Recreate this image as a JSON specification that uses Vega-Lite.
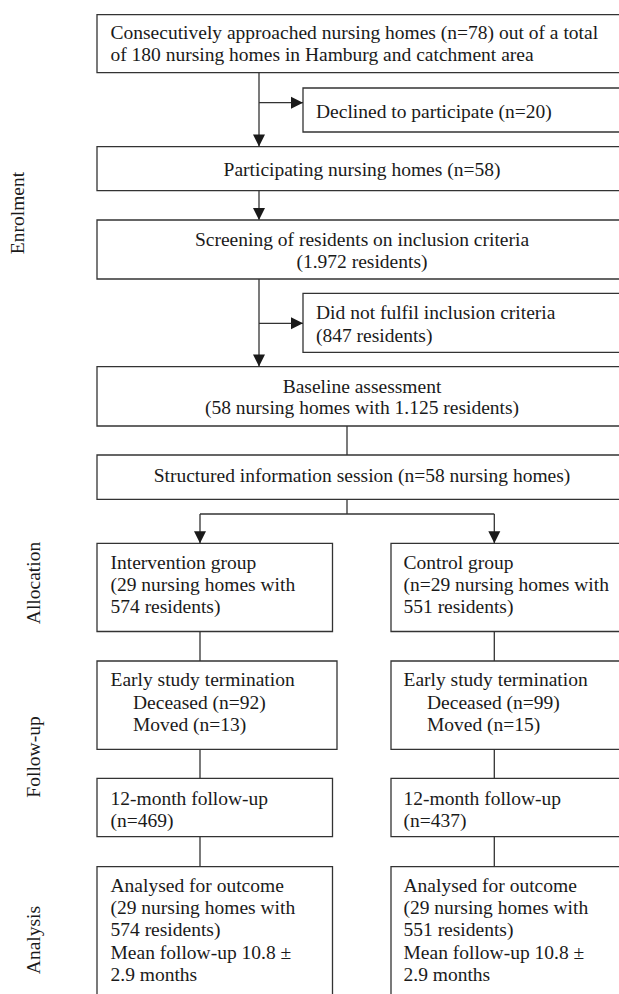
{
  "$schema": "https://vega.github.io/schema/vega-lite/v6.json",
  "width": 619,
  "height": 994,
  "padding": 0,
  "autosize": {"type": "none"},
  "background": "white",
  "config": {"view": {"stroke": null}},
  "datasets": {
    "boxes": [
      {"id": "approached", "x": 97, "x2": 628, "y": 14.7, "y2": 72.7},
      {"id": "declined", "x": 303, "x2": 628, "y": 88, "y2": 132},
      {"id": "participating", "x": 97, "x2": 628, "y": 146.7, "y2": 190.7},
      {"id": "screening", "x": 97, "x2": 628, "y": 220, "y2": 279},
      {"id": "excluded", "x": 303, "x2": 628, "y": 293.3, "y2": 352.3},
      {"id": "baseline", "x": 97, "x2": 628, "y": 366.7, "y2": 426},
      {"id": "session", "x": 97, "x2": 628, "y": 455, "y2": 499.3},
      {"id": "intervention", "x": 97, "x2": 332.5, "y": 543.3, "y2": 631.5},
      {"id": "control", "x": 391, "x2": 628, "y": 543.3, "y2": 631.5},
      {"id": "early_i", "x": 97, "x2": 337, "y": 661, "y2": 749.3},
      {"id": "early_c", "x": 391, "x2": 628, "y": 661, "y2": 749.3},
      {"id": "fu_i", "x": 97, "x2": 332.5, "y": 778.3, "y2": 836.7},
      {"id": "fu_c", "x": 391, "x2": 628, "y": 778.3, "y2": 836.7},
      {"id": "an_i", "x": 97, "x2": 332.5, "y": 866.7, "y2": 1005},
      {"id": "an_c", "x": 391, "x2": 628, "y": 866.7, "y2": 1005}
    ],
    "lines": [
      {"x": 259, "x2": 259, "y": 72.7, "y2": 146},
      {"x": 259, "x2": 303, "y": 102.7, "y2": 102.7},
      {"x": 259, "x2": 259, "y": 190.7, "y2": 219.5},
      {"x": 259, "x2": 259, "y": 279, "y2": 366},
      {"x": 259, "x2": 303, "y": 323.3, "y2": 323.3},
      {"x": 347, "x2": 347, "y": 426, "y2": 455},
      {"x": 347, "x2": 347, "y": 499.3, "y2": 514},
      {"x": 200, "x2": 494.3, "y": 514, "y2": 514},
      {"x": 200, "x2": 200, "y": 514, "y2": 543},
      {"x": 494.3, "x2": 494.3, "y": 514, "y2": 543},
      {"x": 200, "x2": 200, "y": 631.5, "y2": 661},
      {"x": 494.3, "x2": 494.3, "y": 631.5, "y2": 661},
      {"x": 200, "x2": 200, "y": 749.3, "y2": 778.3},
      {"x": 494.3, "x2": 494.3, "y": 749.3, "y2": 778.3},
      {"x": 200, "x2": 200, "y": 836.7, "y2": 866.7},
      {"x": 494.3, "x2": 494.3, "y": 836.7, "y2": 866.7}
    ],
    "arrowsDown": [
      {"x": 259, "y": 146.5},
      {"x": 259, "y": 220},
      {"x": 259, "y": 366.5},
      {"x": 200, "y": 543.3},
      {"x": 494.3, "y": 543.3}
    ],
    "arrowsRight": [
      {"x": 303, "y": 102.7},
      {"x": 303, "y": 323.3}
    ],
    "textCenter": [
      {"x": 362, "y": 169.5, "t": "Participating nursing homes (n=58)"},
      {"x": 362, "y": 240, "t": "Screening of residents on inclusion criteria"},
      {"x": 362, "y": 261.7, "t": "(1.972 residents)"},
      {"x": 362, "y": 386.7, "t": "Baseline assessment"},
      {"x": 362, "y": 408.3, "t": "(58 nursing homes with 1.125 residents)"},
      {"x": 362, "y": 476, "t": "Structured information session (n=58 nursing homes)"}
    ],
    "textLeft": [
      {"x": 110.5, "y": 33.3, "t": "Consecutively approached nursing homes (n=78) out of a total"},
      {"x": 110.5, "y": 55, "t": "of 180 nursing homes in Hamburg and catchment area"},
      {"x": 316, "y": 111.5, "t": "Declined to participate (n=20)"},
      {"x": 316, "y": 312.7, "t": "Did not fulfil inclusion criteria"},
      {"x": 316, "y": 335.7, "t": "(847 residents)"},
      {"x": 110.5, "y": 562.7, "t": "Intervention group"},
      {"x": 110.5, "y": 585, "t": "(29 nursing homes with"},
      {"x": 110.5, "y": 606.7, "t": "574 residents)"},
      {"x": 403.5, "y": 562.7, "t": "Control group"},
      {"x": 403.5, "y": 585, "t": "(n=29 nursing homes with"},
      {"x": 403.5, "y": 606.7, "t": "551 residents)"},
      {"x": 110.5, "y": 680, "t": "Early study termination"},
      {"x": 133, "y": 702.5, "t": "Deceased (n=92)"},
      {"x": 133, "y": 725, "t": "Moved (n=13)"},
      {"x": 403.5, "y": 680, "t": "Early study termination"},
      {"x": 427, "y": 702.5, "t": "Deceased (n=99)"},
      {"x": 427, "y": 725, "t": "Moved (n=15)"},
      {"x": 110.5, "y": 799, "t": "12-month follow-up"},
      {"x": 110.5, "y": 820.7, "t": "(n=469)"},
      {"x": 403.5, "y": 799, "t": "12-month follow-up"},
      {"x": 403.5, "y": 820.7, "t": "(n=437)"},
      {"x": 110.5, "y": 885.7, "t": "Analysed for outcome"},
      {"x": 110.5, "y": 908.3, "t": "(29 nursing homes with"},
      {"x": 110.5, "y": 930, "t": "574 residents)"},
      {"x": 110.5, "y": 953.3, "t": "Mean follow-up 10.8 ±"},
      {"x": 110.5, "y": 975, "t": "2.9 months"},
      {"x": 403.5, "y": 885.7, "t": "Analysed for outcome"},
      {"x": 403.5, "y": 908.3, "t": "(29 nursing homes with"},
      {"x": 403.5, "y": 930, "t": "551 residents)"},
      {"x": 403.5, "y": 953.3, "t": "Mean follow-up 10.8 ±"},
      {"x": 403.5, "y": 975, "t": "2.9 months"}
    ],
    "labels": [
      {"x": 18, "y": 213, "t": "Enrolment"},
      {"x": 34, "y": 583, "t": "Allocation"},
      {"x": 34, "y": 757, "t": "Follow-up"},
      {"x": 34, "y": 940, "t": "Analysis"}
    ]
  },
  "layer": [
    {
      "data": {"name": "boxes"},
      "mark": {"type": "rect", "fill": "white", "stroke": "#333333", "strokeWidth": 1.3},
      "encoding": {
        "x": {"field": "x", "type": "quantitative", "scale": {"domain": [0, 619], "nice": false, "zero": false}, "axis": null},
        "x2": {"field": "x2"},
        "y": {"field": "y", "type": "quantitative", "scale": {"domain": [0, 994], "reverse": true, "nice": false, "zero": false}, "axis": null},
        "y2": {"field": "y2"}
      }
    },
    {
      "data": {"name": "lines"},
      "mark": {"type": "rule", "stroke": "#333333", "strokeWidth": 1.3},
      "encoding": {
        "x": {"field": "x", "type": "quantitative", "axis": null},
        "x2": {"field": "x2"},
        "y": {"field": "y", "type": "quantitative", "axis": null},
        "y2": {"field": "y2"}
      }
    },
    {
      "data": {"name": "arrowsDown"},
      "mark": {"type": "point", "shape": "M-1,-1L1,-1L0,1Z", "size": 144, "filled": true, "color": "#1a1a1a", "opacity": 1, "yOffset": -6},
      "encoding": {
        "x": {"field": "x", "type": "quantitative", "axis": null},
        "y": {"field": "y", "type": "quantitative", "axis": null}
      }
    },
    {
      "data": {"name": "arrowsRight"},
      "mark": {"type": "point", "shape": "M-1,-1L1,0L-1,1Z", "size": 144, "filled": true, "color": "#1a1a1a", "opacity": 1, "xOffset": -6},
      "encoding": {
        "x": {"field": "x", "type": "quantitative", "axis": null},
        "y": {"field": "y", "type": "quantitative", "axis": null}
      }
    },
    {
      "data": {"name": "textCenter"},
      "mark": {"type": "text", "font": "Liberation Serif", "fontSize": 19.5, "align": "center", "baseline": "middle", "color": "#1a1a1a"},
      "encoding": {
        "x": {"field": "x", "type": "quantitative", "axis": null},
        "y": {"field": "y", "type": "quantitative", "axis": null},
        "text": {"field": "t"}
      }
    },
    {
      "data": {"name": "textLeft"},
      "mark": {"type": "text", "font": "Liberation Serif", "fontSize": 19.5, "align": "left", "baseline": "middle", "color": "#1a1a1a"},
      "encoding": {
        "x": {"field": "x", "type": "quantitative", "axis": null},
        "y": {"field": "y", "type": "quantitative", "axis": null},
        "text": {"field": "t"}
      }
    },
    {
      "data": {"name": "labels"},
      "mark": {"type": "text", "font": "Liberation Serif", "fontSize": 19.5, "align": "center", "baseline": "middle", "angle": 270, "color": "#1a1a1a"},
      "encoding": {
        "x": {"field": "x", "type": "quantitative", "axis": null},
        "y": {"field": "y", "type": "quantitative", "axis": null},
        "text": {"field": "t"}
      }
    }
  ]
}
